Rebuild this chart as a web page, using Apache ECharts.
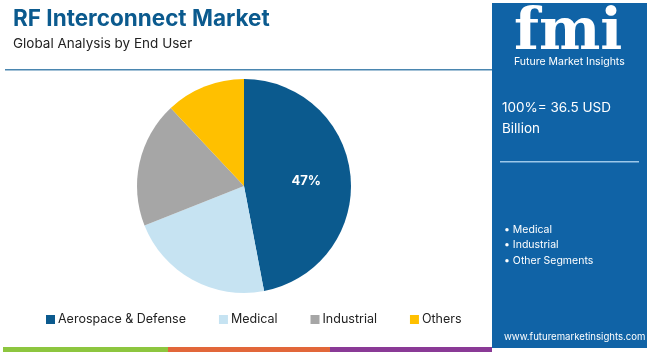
<!DOCTYPE html>
<html>
<head>
<meta charset="utf-8">
<style>
  html, body { margin: 0; padding: 0; background: #ffffff; }
  #container { width: 650px; height: 352px; }
</style>
<script src="https://cdn.jsdelivr.net/npm/echarts@6/dist/echarts.min.js"></script>
</head>
<body>
<div id="container"></div>
<script>
var dom = document.getElementById('container');
var myChart = echarts.init(dom, null, { renderer: 'canvas' });

// data
var categories = ['Aerospace & Defense', 'Medical', 'Industrial', 'Others'];
var shares = [47, 22, 19, 12];
var colors = ['#0b5a8e', '#c6e3f2', '#a6a6a6', '#ffc000'];
var segments = ['Medical', 'Industrial', 'Other Segments'];
var totalText = ['100%= 36.5 USD', 'Billion'];

var pieData = categories.map(function (name, i) {
    return {
        name: name,
        value: shares[i],
        itemStyle: { color: colors[i] },
        label: { show: i === 0 }
    };
});

var font = 'Inter, "Noto Sans", sans-serif';

var option = {
    backgroundColor: '#ffffff',
    animation: false,
    title: [
        {
            text: 'RF Interconnect Market',
            left: 8,
            top: 3,
            textStyle: { color: '#0b5a8e', fontSize: 22.5, fontWeight: 'bold', fontFamily: font }
        },
        {
            text: 'Global Analysis by End User',
            left: 8,
            top: 32,
            textStyle: { color: '#222222', fontSize: 13.5, fontWeight: 'normal', fontFamily: font }
        }
    ],
    legend: {
        bottom: 21,
        left: 41,
        itemWidth: 9,
        itemHeight: 9,
        itemGap: 33,
        icon: 'rect',
        textStyle: { color: '#222222', fontSize: 12.5, fontFamily: font, padding: [0, 0, 0, -2] },
        data: categories
    },
    graphic: [
        // header rule
        { type: 'rect', shape: { x: 5, y: 69, width: 487, height: 1.5 }, style: { fill: '#4a86b0' } },
        // bottom colour strip
        { type: 'rect', shape: { x: 3, y: 347, width: 165, height: 5 }, style: { fill: '#8dc63f' } },
        { type: 'rect', shape: { x: 168, y: 347, width: 162, height: 5 }, style: { fill: '#e2673a' } },
        { type: 'rect', shape: { x: 330, y: 347, width: 162, height: 5 }, style: { fill: '#8a3a96' } },
        // right panel
        { type: 'rect', shape: { x: 492, y: 3, width: 155, height: 345 }, style: { fill: '#1063a6' } },
        {
            type: 'text', left: 514, top: 5,
            style: { text: 'fmi', fill: '#ffffff', font: 'bold 58px "DejaVu Serif", serif' }
        },
        {
            type: 'text', left: 514, top: 56,
            style: { text: 'Future Market Insights', fill: '#ffffff', font: '10.5px ' + font }
        },
        {
            type: 'text', left: 502, top: 97,
            style: { text: totalText.join('\n'), fill: '#ffffff', font: '13.5px ' + font, lineHeight: 21 }
        },
        { type: 'rect', shape: { x: 500, y: 161, width: 139, height: 1.5 }, style: { fill: '#9cc8ea' } },
        {
            type: 'text', left: 504, top: 222,
            style: {
                text: segments.map(function (s) { return '\u2022 ' + s; }).join('\n'),
                fill: '#ffffff', font: '10.5px ' + font, lineHeight: 15.5
            }
        },
        {
            type: 'text', left: 504, top: 332,
            style: { text: 'www.futuremarketinsights.com', fill: '#ffffff', font: '9.6px ' + font }
        }
    ],
    series: [
        {
            name: 'End User',
            type: 'pie',
            center: [244, 186],
            radius: [0, 107],
            startAngle: 90,
            clockwise: true,
            label: {
                show: false,
                position: 'inside',
                formatter: '{c}%',
                color: '#ffffff',
                fontSize: 13,
                fontWeight: 'bold',
                fontFamily: font,
                offset: [6, 0]
            },
            labelLine: { show: false },
            emphasis: { disabled: true },
            data: pieData
        }
    ]
};

myChart.setOption(option);
window.addEventListener('resize', myChart.resize);
</script>
</body>
</html>
